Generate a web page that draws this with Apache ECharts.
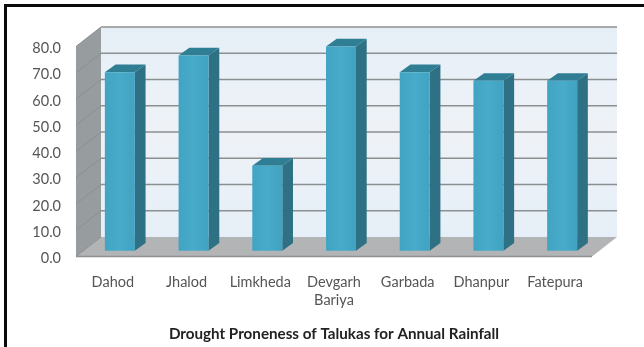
<!DOCTYPE html>
<html>
<head>
<meta charset="utf-8">
<style>html,body{margin:0;padding:0;background:#fff;overflow:hidden}#chart{width:644px;height:347px}</style>
<script src="https://cdn.jsdelivr.net/npm/echarts@6/dist/echarts.min.js"></script>
</head>
<body>
<div id="chart"></div>
<script>
// Drought proneness per taluka, drawn as pseudo-3D columns on a Cartesian grid.
const categories = ['Dahod', 'Jhalod', 'Limkheda', 'Devgarh\nBariya', 'Garbada', 'Dhanpur', 'Fatepura'];
const proneness = [68.0, 74.4, 32.4, 77.8, 68.0, 64.7, 64.7];
const yTicks = [0, 10, 20, 30, 40, 50, 60, 70, 80];
const chartTitle = 'Drought Proneness of Talukas for Annual Rainfall';

// Oblique projection of the box the columns stand in (pixels).
const WALL_DX = 25, WALL_DY = -19.5;
const BAR_DX = 10.7, BAR_DY = -7.7;
const BAR_SHIFT_X = 7, BAR_SHIFT_Y = -5.8;
const BAR_WIDTH = 30;

function poly(points, fill) {
  return { type: 'polygon', shape: { points }, style: { fill } };
}
function line(a, b, stroke, width) {
  return { type: 'line', shape: { x1: a[0], y1: a[1], x2: b[0], y2: b[1] }, style: { stroke, lineWidth: width } };
}

function renderWalls(params, api) {
  const band = api.size([1, 0])[0];
  const left = api.coord([0, 0])[0] - band / 2;
  const right = api.coord([categories.length - 1, 0])[0] + band / 2;
  const y0 = api.coord([0, 0])[1];
  const yMax = api.coord([0, yTicks[yTicks.length - 1]])[1];
  const children = [
    {
      type: 'rect',
      shape: { x: left + WALL_DX, y: yMax + WALL_DY, width: right - left, height: y0 - yMax },
      style: { fill: new echarts.graphic.LinearGradient(0, 0, 0, 1, [
        { offset: 0, color: '#e6eff7' }, { offset: 0.5, color: '#eef2f7' }, { offset: 1, color: '#e6eff7' }
      ]) }
    },
    poly([[left, yMax], [left + WALL_DX, yMax + WALL_DY], [left + WALL_DX, y0 + WALL_DY], [left, y0]], '#979c9f'),
    poly([[left, y0], [left + WALL_DX, y0 + WALL_DY], [right + WALL_DX, y0 + WALL_DY], [right, y0]], '#b2b4b6')
  ];
  yTicks.forEach(function (t) {
    const y = api.coord([0, t])[1];
    if (t > 0) {
      children.push(line([left + WALL_DX, y + WALL_DY], [right + WALL_DX, y + WALL_DY], '#8c8f90', 1.4));
    }
    children.push(line([left, y], [left + WALL_DX, y + WALL_DY], '#8a8f92', 1));
  });
  children.push(line([left, y0], [right, y0], '#8e9092', 1.4));
  return { type: 'group', children };
}

function renderBar(params, api) {
  const base = api.coord([api.value(0), 0]);
  const top = api.coord([api.value(0), api.value(1)]);
  const x0 = base[0] + BAR_SHIFT_X - BAR_WIDTH / 2;
  const x1 = x0 + BAR_WIDTH;
  const yb = base[1] + BAR_SHIFT_Y;
  const yt = top[1] + BAR_SHIFT_Y;
  return {
    type: 'group',
    children: [
      poly([[x1, yt], [x1 + BAR_DX, yt + BAR_DY], [x1 + BAR_DX, yb + BAR_DY], [x1, yb]], '#2e7084'),
      poly([[x0, yt], [x0 + BAR_DX, yt + BAR_DY], [x1 + BAR_DX, yt + BAR_DY], [x1, yt]], '#2f7e94'),
      {
        type: 'rect',
        shape: { x: x0, y: yt, width: BAR_WIDTH, height: yb - yt },
        style: { fill: new echarts.graphic.LinearGradient(0, 0, 1, 0, [
          { offset: 0, color: '#42a4c3' }, { offset: 0.5, color: '#48abc9' }, { offset: 1, color: '#41a2c2' }
        ]) }
      }
    ]
  };
}

const chart = echarts.init(document.getElementById('chart'), null, { renderer: 'canvas' });
chart.setOption({
  animation: false,
  backgroundColor: '#ffffff',
  title: {
    text: chartTitle,
    left: 329,
    top: 322,
    textAlign: 'center',
    textStyle: { fontFamily: 'Lato', fontSize: 15.2, fontWeight: 'bold', color: '#222222' }
  },
  graphic: [{
    type: 'polyline',
    shape: { points: [[5.5, 347], [5.5, 5.5], [644, 5.5]] },
    style: { stroke: '#0a0a0a', fill: null, lineWidth: 3 },
    silent: true
  }],
  grid: { left: 76, top: 46.5, width: 516, height: 210 },
  xAxis: {
    type: 'category',
    data: categories,
    axisLine: { show: false },
    axisTick: { show: false },
    axisLabel: {
      interval: 0,
      margin: 17,
      lineHeight: 18,
      fontFamily: 'Lato',
      fontSize: 14.5,
      color: '#555555'
    }
  },
  yAxis: {
    type: 'value',
    min: 0,
    max: 80,
    interval: 10,
    axisLine: { show: false },
    axisTick: { show: false },
    splitLine: { show: false },
    axisLabel: {
      margin: 15,
      fontFamily: 'Lato',
      fontSize: 14.5,
      color: '#555555',
      verticalAlign: 'top',
      lineHeight: 4,
      formatter: function (v) { return v.toFixed(1); }
    }
  },
  series: [
    {
      name: 'box',
      type: 'custom',
      clip: false,
      silent: true,
      z: 1,
      data: [[0, 0]],
      renderItem: renderWalls
    },
    {
      name: 'Drought proneness',
      type: 'custom',
      clip: false,
      z: 2,
      encode: { x: 0, y: 1 },
      data: proneness.map(function (v, i) { return [i, v]; }),
      renderItem: renderBar
    }
  ]
});
</script>
</body>
</html>
